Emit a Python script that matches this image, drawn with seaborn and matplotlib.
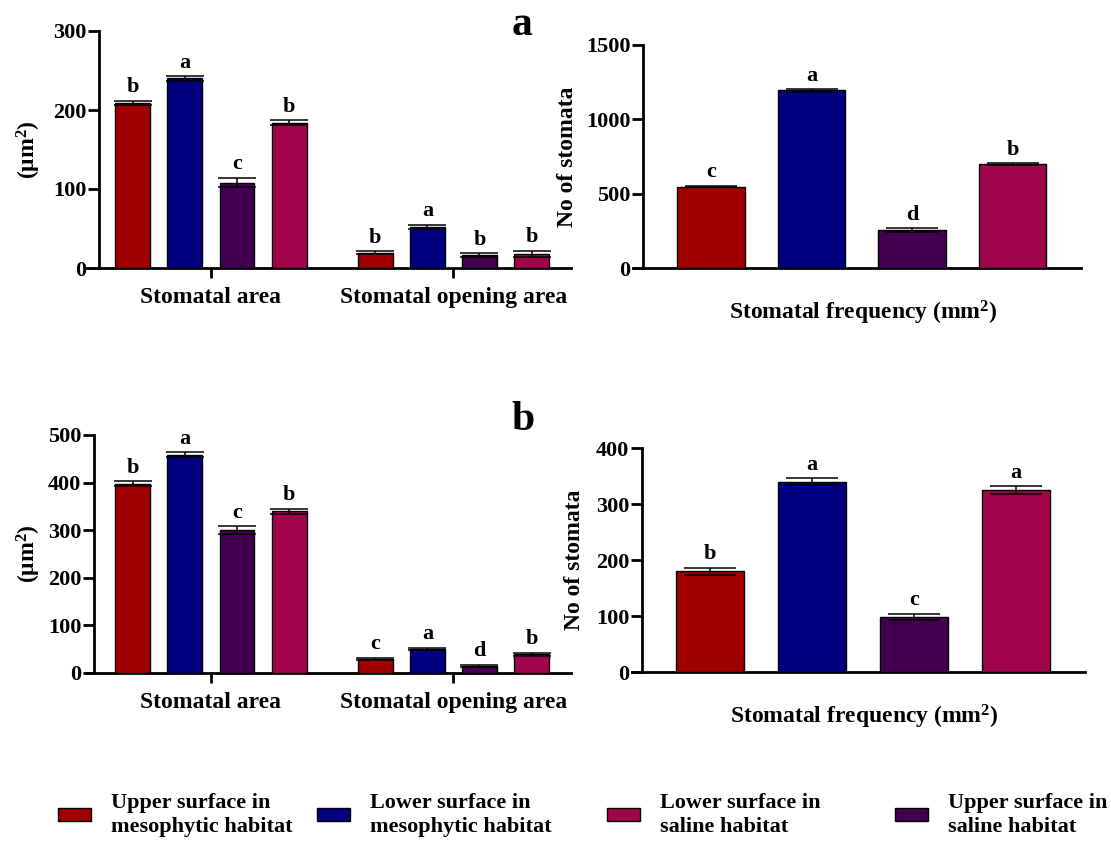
import numpy as np
import pandas as pd
import matplotlib
matplotlib.use("Agg")
import matplotlib.pyplot as plt
from matplotlib.patches import Patch
import seaborn as sns

# ---- data -------------------------------------------------------------
surfaces = ["Upper surface in mesophytic habitat",
            "Lower surface in mesophytic habitat",
            "Upper surface in saline habitat",
            "Lower surface in saline habitat"]
colors = ["#A00000", "#000080", "#440050", "#A0054C"]
measures = ["Stomatal area", "Stomatal opening area"]

# panel a – stomatal size (µm²)
a_area = [209, 240, 108, 184]
a_area_err = [3, 3, 6, 3]
a_area_let = ["b", "a", "c", "b"]
a_open = [19.5, 52, 16.5, 18]
a_open_err = [1.5, 3, 2.5, 4]
a_open_let = ["b", "a", "b", "b"]
# panel a – stomatal frequency
a_freq = [548, 1195, 256, 697]
a_freq_err = [5, 8, 12, 6]
a_freq_let = ["c", "a", "d", "b"]

# panel b – stomatal size (µm²)
b_area = [398, 459, 300, 340]
b_area_err = [5, 5, 8, 5]
b_area_let = ["b", "a", "c", "b"]
b_open = [30, 51, 15, 39]
b_open_err = [2, 2.5, 2, 4]
b_open_let = ["c", "a", "d", "b"]
# panel b – stomatal frequency
b_freq = [180, 340, 98, 325]
b_freq_err = [6, 6, 6, 6.5]
b_freq_let = ["b", "a", "c", "a"]

legend_order = [0, 1, 3, 2]
legend_labels = ["Upper surface in\nmesophytic habitat",
                 "Lower surface in\nmesophytic habitat",
                 "Lower surface in\nsaline habitat",
                 "Upper surface in\nsaline habitat"]

# ---- style ------------------------------------------------------------
sns.set_style("ticks")
plt.rcParams.update({
    "font.family": ["Liberation Serif", "DejaVu Serif"],
    "font.weight": "bold",
    "axes.labelweight": "bold",
    "text.color": "black",
    "axes.labelcolor": "black",
    "xtick.color": "black",
    "ytick.color": "black",
    "mathtext.fontset": "custom",
    "mathtext.default": "bf",
    "mathtext.bf": "Liberation Serif:bold",
    "mathtext.rm": "Liberation Serif:bold",
})

W, H = 1111, 841
fig = plt.figure(figsize=(W / 100, H / 100), dpi=100)


def rect(l, r, t, b):
    return [l / W, 1 - b / H, (r - l) / W, (b - t) / H]


def style_axis(ax, spine_x, ymax, ystep):
    sns.despine(ax=ax)
    for s in ("left", "bottom"):
        ax.spines[s].set_linewidth(2.0)
        ax.spines[s].set_color("black")
    ax.spines["left"].set_position(("data", spine_x))
    ax.set_ylim(0, ymax)
    ax.set_yticks(np.arange(0, ymax + 1, ystep))
    ax.tick_params(axis="y", direction="out", length=8, width=2,
                   pad=1, labelsize=16, colors="black")


def add_err_letters(ax, xs, vals, errs, letters, cap):
    ax.errorbar(xs, vals, yerr=errs, fmt="none", ecolor="black",
                elinewidth=1.1, capsize=cap, capthick=1.1, zorder=5)
    for x, v, e, l in zip(xs, vals, errs, letters):
        ax.annotate(l, (x, v + e), xytext=(0, 2.5), textcoords="offset points",
                    ha="center", va="bottom", fontsize=16, fontweight="bold")


def size_panel(ax, area, area_err, area_let, opn, opn_err, opn_let, spine_px, ymax, ystep):
    df = pd.DataFrame({
        "measure": np.repeat(measures, 4),
        "surface": surfaces * 2,
        "value": area + opn,
        "err": area_err + opn_err,
        "letter": area_let + opn_let,
    })
    sns.barplot(data=df, x="measure", y="value", hue="surface",
                order=measures, hue_order=surfaces, palette=colors,
                saturation=1, width=0.86, gap=0.33, edgecolor="black",
                linewidth=1, errorbar=None, legend=False, ax=ax, zorder=3)
    # bar centres, matched to the rows of the frame
    for surf, cont in zip(surfaces, ax.containers):
        sub = df[df.surface == surf].set_index("measure").loc[measures]
        xs = [b.get_x() + b.get_width() / 2 for b in cont]
        add_err_letters(ax, xs, sub.value.values, sub.err.values, sub.letter.values, 14)
    ax.set_xlim(-0.511, 1.485)
    style_axis(ax, (spine_px - 211) / 242.5, ymax, ystep)
    ax.tick_params(axis="x", direction="out", length=7, width=2, pad=7,
                   labelsize=17, colors="black")
    ax.set_xlabel("")
    ax.set_ylabel("(μm$^2$)", fontsize=17)
    ax.yaxis.set_label_coords((43 - 87) / 484, 0.5)


def freq_panel(ax, vals, errs, lets, left, right, c0, slot, spine_px, ymax, ystep, ylab_px):
    df = pd.DataFrame({"surface": surfaces, "value": vals, "err": errs, "letter": lets})
    sns.barplot(data=df, x="surface", y="value", hue="surface",
                order=surfaces, hue_order=surfaces, palette=colors,
                saturation=1, width=0.667, edgecolor="black", linewidth=1,
                errorbar=None, legend=False, ax=ax, zorder=3)
    xs = []
    for cont in ax.containers:
        for b in cont:
            xs.append(b.get_x() + b.get_width() / 2)
    xs = np.sort(np.array(xs))
    add_err_letters(ax, xs, df.value.values, df.err.values, df.letter.values, 19)
    ax.set_xlim((left - c0) / slot, (right - c0) / slot)
    style_axis(ax, (spine_px - c0) / slot, ymax, ystep)
    ax.set_xticks([])
    ax.set_xlabel("Stomatal frequency (mm$^2$)", fontsize=17)
    ax.xaxis.set_label_coords(0.513, -45 / 223)
    ax.xaxis.label.set_va("center")
    ax.set_ylabel("No of stomata", fontsize=17)
    ax.yaxis.set_label_coords((ylab_px - left) / (right - left), 0.5)


ax1 = fig.add_axes(rect(87, 571, 31, 268))
size_panel(ax1, a_area, a_area_err, a_area_let, a_open, a_open_err, a_open_let, 99, 300, 100)
ax2 = fig.add_axes(rect(633, 1081, 45, 268))
freq_panel(ax2, a_freq, a_freq_err, a_freq_let, 633, 1081, 711, 100.5, 643, 1500, 500, 578)
ax3 = fig.add_axes(rect(87, 571, 435, 673))
size_panel(ax3, b_area, b_area_err, b_area_let, b_open, b_open_err, b_open_let, 94, 500, 100)
ax4 = fig.add_axes(rect(632, 1085, 448, 672))
freq_panel(ax4, b_freq, b_freq_err, b_freq_let, 632, 1085, 710, 102, 642, 400, 100, 585)

# panel letters
fig.text(522 / W, 1 - 25 / H, "a", ha="center", va="center", fontsize=30, fontweight="bold")
fig.text(523 / W, 1 - 420 / H, "b", ha="center", va="center", fontsize=30, fontweight="bold")

# legend, one entry per column
handle_x = [58, 317, 607, 895]
for hx, idx, lab in zip(handle_x, legend_order, legend_labels):
    leg = fig.legend(handles=[Patch(facecolor=colors[idx], edgecolor="black", linewidth=1)],
                     labels=[lab], loc="center left",
                     bbox_to_anchor=(hx / W, 1 - 815 / H), frameon=False,
                     fontsize=16, handlelength=1.5, handleheight=0.5,
                     handletextpad=0.9, borderpad=0, borderaxespad=0)
    for t in leg.get_texts():
        t.set_linespacing(1.3)

fig.savefig("out.png", dpi=100)
